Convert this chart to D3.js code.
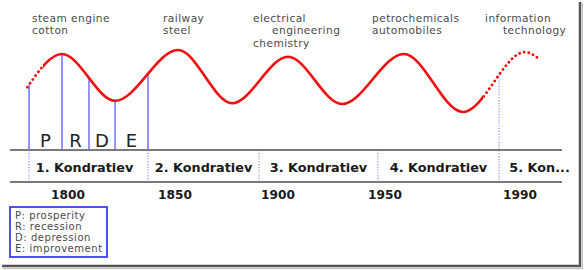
<!DOCTYPE html>
<html lang="en">
<head>
<meta charset="utf-8">
<title>Kondratiev waves</title>
<script src="https://cdnjs.cloudflare.com/ajax/libs/d3/7.8.5/d3.min.js"></script>
<style>
  body { margin: 0; background: #fff; }
  text { font-family: "DejaVu Sans", sans-serif; }
</style>
</head>
<body>
<script>
// data
var tickYears = [1800, 1850, 1900, 1950, 1990];
var waveYears = [1781, 1797.2, 1822, 1851.5, 1877.7, 1904.7, 1929.9, 1955.6, 1973.1, 1991.5, 1995.3];
var waveLevel = [4.1, 8.25, 2.4, 8.75, 2.1, 7.9, 2.0, 8.25, 1.0, 8.5, 7.75];
var solidSpan = [1788.3, 1979.0];
var phases = ["P", "R", "D", "E"];
var phaseBounds = [1781.8, 1797.2, 1809.8, 1822.0, 1837.4];
var cycleNames = ["1. Kondratiev", "2. Kondratiev", "3. Kondratiev", "4. Kondratiev", "5. Kon..."];
var cycleBounds = [1781.8, 1837.4, 1890.8, 1946.7, 1983.8, 2007.8];
var innovations = [
  ["steam engine", "cotton"],
  ["railway", "steel"],
  ["electrical", "engineering", "chemistry"],
  ["petrochemicals", "automobiles"],
  ["information", "technology"]
];
var legendItems = ["P: prosperity", "R: recession", "D: depression", "E: improvement"];

var w = 584, h = 270;
var svg = d3.select("body").append("svg").attr("width", w).attr("height", h);

// the year axis is not even in the original, so use a piecewise scale
var x = d3.scaleLinear().domain(tickYears).range([68, 175, 278, 385, 520]);
var y = d3.scaleLinear().domain([0, 10]).range([120, 40]);

var bandTop = 150, bandBottom = 182;
var red = "#f01010", blue = "#7a7aff";

// frame shadow
svg.append("line").attr("x1", 580).attr("x2", 580).attr("y1", 2).attr("y2", 267)
  .attr("stroke", "#555").attr("stroke-width", 2.5);
svg.append("line").attr("x1", 2).attr("x2", 581).attr("y1", 266).attr("y2", 266)
  .attr("stroke", "#555").attr("stroke-width", 2.5);
svg.append("line").attr("x1", 582.5).attr("x2", 582.5).attr("y1", 3).attr("y2", 269)
  .attr("stroke", "#bbb").attr("stroke-width", 1);
svg.append("line").attr("x1", 3).attr("x2", 583).attr("y1", 268.5).attr("y2", 268.5)
  .attr("stroke", "#bbb").attr("stroke-width", 1);

// wave path
var pts = waveYears.map(function(d, i) { return [d, waveLevel[i]]; });
var line = d3.line()
  .x(function(d) { return x(d[0]); })
  .y(function(d) { return y(d[1]); })
  .curve(d3.curveMonotoneX);

var defs = svg.append("defs");
defs.append("clipPath").attr("id", "solid")
  .append("rect").attr("x", x(solidSpan[0])).attr("y", 0)
  .attr("width", x(solidSpan[1]) - x(solidSpan[0])).attr("height", h);
var dotClip = defs.append("clipPath").attr("id", "dotted");
dotClip.append("rect").attr("x", 0).attr("y", 0).attr("width", x(solidSpan[0])).attr("height", h);
dotClip.append("rect").attr("x", x(solidSpan[1])).attr("y", 0)
  .attr("width", w - x(solidSpan[1])).attr("height", h);

// hidden helper path to find the curve height at a given year
var probe = svg.append("path").attr("d", line(pts)).attr("fill", "none").attr("stroke", "none");
var probeNode = probe.node(), probeLen = probeNode.getTotalLength();
function curveY(year) {
  var tx = x(year), lo = 0, hi = probeLen;
  for (var k = 0; k < 40; k++) {
    var mid = (lo + hi) / 2;
    if (probeNode.getPointAtLength(mid).x < tx) lo = mid; else hi = mid;
  }
  return probeNode.getPointAtLength(lo).y;
}

// phase lines (solid, above the band)
svg.selectAll(".phase").data(phaseBounds).enter().append("line")
  .attr("class", "phase")
  .attr("x1", function(d) { return x(d); }).attr("x2", function(d) { return x(d); })
  .attr("y1", function(d) { return curveY(d); }).attr("y2", bandTop)
  .attr("stroke", blue).attr("stroke-width", 1.6);

// cycle boundaries (dotted)
svg.selectAll(".cycle").data(cycleBounds.slice(0, 5)).enter().append("line")
  .attr("class", "cycle")
  .attr("x1", function(d) { return x(d); }).attr("x2", function(d) { return x(d); })
  .attr("y1", function(d, i) { return i == 4 ? curveY(d) : bandTop; })
  .attr("y2", bandBottom)
  .attr("stroke", "#8c8cff").attr("stroke-width", 1.2).attr("stroke-dasharray", "1.2,1.6");

// red wave
svg.append("path").attr("d", line(pts)).attr("clip-path", "url(#solid)")
  .attr("fill", "none").attr("stroke", red).attr("stroke-width", 2.6);
svg.append("path").attr("d", line(pts)).attr("clip-path", "url(#dotted)")
  .attr("fill", "none").attr("stroke", red).attr("stroke-width", 2.8)
  .attr("stroke-linecap", "round").attr("stroke-dasharray", "0.1,4.6");

// phase letters
svg.selectAll(".plabel").data(phases).enter().append("text")
  .attr("x", function(d, i) { return (x(phaseBounds[i]) + x(phaseBounds[i + 1])) / 2; })
  .attr("y", 147)
  .attr("text-anchor", "middle").attr("font-size", 18).attr("fill", "#222")
  .text(function(d) { return d; });

// band lines
[bandTop, bandBottom].forEach(function(yy) {
  svg.append("line").attr("x1", 10).attr("x2", 562).attr("y1", yy).attr("y2", yy)
    .attr("stroke", "#7a7a7a").attr("stroke-width", 2);
});

// cycle names
svg.selectAll(".cname").data(cycleNames).enter().append("text")
  .attr("x", function(d, i) { return (x(cycleBounds[i]) + x(cycleBounds[i + 1])) / 2 - (i == 0 ? 4 : 0); })
  .attr("y", 171.5)
  .attr("text-anchor", "middle").attr("font-size", 12.8).attr("font-weight", "bold").attr("fill", "#1a1a1a")
  .text(function(d) { return d; });

// year ticks
svg.selectAll(".year").data(tickYears).enter().append("text")
  .attr("x", function(d) { return x(d); }).attr("y", 199)
  .attr("text-anchor", "middle").attr("font-size", 12.2).attr("font-weight", "bold").attr("fill", "#1a1a1a")
  .text(function(d) { return d; });

// innovation labels, one text per line
var innovX = [32, 163, 253, 372, 485];
var innovIndent = [[0, 0], [0, 0], [0, 19, 0], [0, 0], [0, 18]];
innovations.forEach(function(lines, i) {
  svg.selectAll(".inno" + i).data(lines).enter().append("text")
    .attr("x", function(d, j) { return innovX[i] + innovIndent[i][j]; })
    .attr("y", function(d, j) { return 22 + j * 12.4; })
    .attr("font-size", 10.6).attr("letter-spacing", 0.45).attr("fill", "#4a4a4a")
    .text(function(d) { return d; });
});

// legend
svg.append("rect").attr("x", 10).attr("y", 207).attr("width", 97).attr("height", 50)
  .attr("fill", "#fff").attr("stroke", "#3c3cf2").attr("stroke-width", 1.8);
svg.selectAll(".leg").data(legendItems).enter().append("text")
  .attr("x", 15).attr("y", function(d, i) { return 219 + i * 11; })
  .attr("font-size", 10).attr("letter-spacing", 0.55).attr("fill", "#4a4a4a")
  .text(function(d) { return d; });
</script>
</body>
</html>
